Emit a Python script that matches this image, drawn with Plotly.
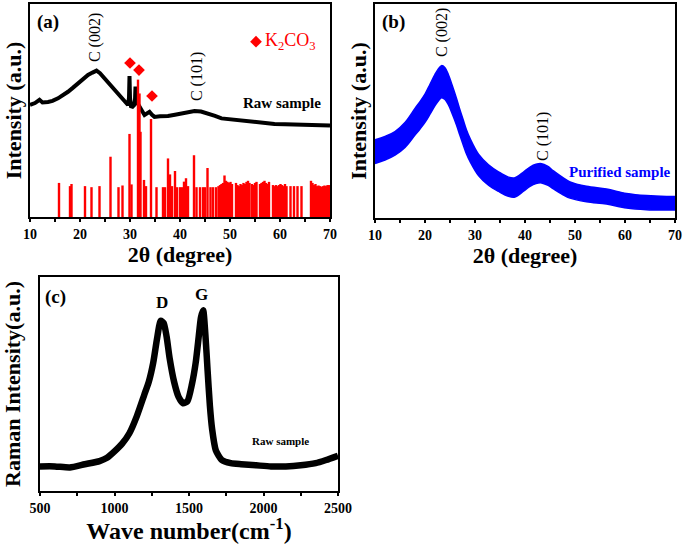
import plotly.graph_objects as go

# ---------------- Panel (a): raw sample XRD ----------------
raw_2theta = [10, 11, 11.9, 12.5, 13.6, 14.5, 15.6, 16.5, 17.6, 18.5, 19.6, 20.5, 21.6, 22.5, 23.3,
              24.0, 24.9, 25.8, 26.6, 27.5, 28.3, 29.0, 29.6, 29.8, 29.9, 30.0, 30.2, 30.5, 30.8,
              31.0, 31.1, 31.2, 31.4, 31.6, 31.9, 32.3, 32.9, 33.5, 33.9, 34.4, 34.9, 36.0, 37.6,
              39.0, 40.3, 41.5, 42.9, 44.2, 45.6, 47.0, 48.3, 49.5, 50.9, 53.0, 54.9, 57.0, 58.9,
              61.0, 62.9, 65.0, 66.9, 68.5, 70]
raw_int = [52.6, 53.5, 55.0, 53.8, 54, 54.5, 55.7, 57, 58.8, 60.5, 62.8, 64.5, 66.7, 67.8, 68.7,
           67.5, 65, 62.8, 60.4, 58, 55.7, 54, 52.6, 56, 66.2, 56, 52, 51.8, 52.5,
           55, 61.2, 55, 54, 53, 51.5, 50.2, 47.9, 48.5, 49.4, 48, 47, 47.3, 47.4,
           48, 48.7, 49.3, 49.8, 49.5, 48.7, 47.5, 46.3, 46, 45.5, 45, 44.4, 44, 43.7,
           43.6, 43.5, 43.3, 43.2, 43, 42.9]

# K2CO3 reference sticks
k2co3_pos = [15.8, 18.0, 18.3, 21.0, 22.3, 23.9, 26.1, 27.7, 28.5, 29.9, 30.3, 31.6, 31.9, 32.1,
             32.8, 33.2, 34.2, 35.3, 36.6, 37.0, 37.6, 38.0, 38.4, 39.0, 39.4, 40.0, 40.4, 40.8,
             41.2, 41.6, 42.8, 43.3, 44.0, 44.6, 45.0, 45.5, 46.1, 46.6, 47.2, 47.7, 48.0, 48.3,
             48.6, 48.9, 49.2, 49.5, 49.8, 50.1, 50.4,
             51.2, 51.5, 51.8, 52.1, 52.4, 52.7, 53.0, 53.3, 53.6, 53.9, 54.4, 54.7, 55.0, 55.3,
             56.0, 56.3, 56.6, 56.9, 57.2, 57.5, 57.8, 58.6, 58.9, 59.2, 59.5, 59.8, 60.1, 60.4,
             60.7, 61.0, 61.3, 62.1, 62.8, 63.5, 64.3,
             66.2, 66.5, 66.8, 67.1, 67.4, 67.7, 68.0, 68.3, 68.6, 68.9, 69.2, 69.5, 69.8]
k2co3_int = [16, 14.5, 15.5, 14.5, 14, 14.5, 28.3, 14, 14.8, 39, 15.3, 64.5, 58, 40,
             17.4, 14.5, 46, 14, 14, 14, 27.5, 20, 14.5, 21.6, 14, 14, 14, 16.6,
             18.2, 14.5, 29, 14, 14, 14, 14, 23, 14, 14, 14, 14.5, 15, 15.5,
             16, 19.5, 17, 16.5, 16, 16.5, 15.5,
             16, 15, 14.5, 15.5, 15, 16, 15.5, 16.5, 17, 16, 15.5, 15, 16, 16.5,
             15.5, 16, 16.5, 17, 16, 15.5, 16.5, 15, 14.5, 15, 14.5, 15, 15.5, 15,
             14.5, 15.5, 14.5, 14.5, 14.5, 14.5, 14.5,
             17, 16, 15, 15.5, 14.5, 14.8, 14.5, 14.2, 14.5, 14.8, 14.5, 15, 15]

# diamond markers above K2CO3 peaks
diamond_2theta = [30.0, 31.8, 34.4]
diamond_int = [72.3, 69.0, 56.8]

# ---------------- Panel (b): purified sample XRD ----------------
pur_2theta = [10, 12, 14, 16, 18, 19, 20, 21, 22, 22.7, 23.3, 24.0, 24.7, 25.5, 26.3, 27.0, 27.7,
              28.3, 29, 30.7, 32.7, 34.7, 36.7, 38, 39.7, 41, 42.2, 43.3, 44.5, 45.7, 47.3, 49,
              52.3, 56.3, 60.3, 64.3, 68.3, 70]
pur_int = [31, 32.6, 34.9, 38.8, 45, 48, 51.3, 55.5, 59.8, 62.3, 63.7, 62.8, 59.8, 55, 49.7,
           44.5, 39.6, 35.5, 31.8, 24.8, 20.1, 17, 14.6, 14.3, 17, 19.3, 20.6, 20.9, 19.8, 17.8,
           15.3, 13.1, 11.2, 10, 8.1, 7.2, 6.9, 6.9]
pur_halfwidth = [5.5, 5.5, 5.5, 5.8, 6.2, 6.4, 6.6, 7.0, 7.3, 7.5, 7.5, 7.4, 7.0, 6.6, 6.2, 6.0, 5.8,
                 5.6, 5.4, 5.0, 4.8, 4.6, 4.5, 4.5, 4.5, 4.5, 4.5, 4.5, 4.4, 4.2, 4.0, 3.8,
                 3.6, 3.5, 3.4, 3.3, 3.2, 3.2]

# ---------------- Panel (c): Raman ----------------
wavenumber = [500, 600, 700, 800, 900, 950, 1000, 1050, 1100, 1150, 1200, 1230, 1260, 1285, 1310,
              1330, 1350, 1370, 1400, 1430, 1460, 1490, 1520, 1545, 1565, 1580, 1595, 1610, 1625,
              1640, 1655, 1680, 1720, 1780, 1850, 1950, 2050, 2150, 2250, 2350, 2420, 2500]
raman_int = [11.5, 11.5, 11.0, 12.5, 14, 15.5, 18.5, 22, 27, 35, 45, 51, 60, 71, 79.5,
             78.5, 72, 62, 51, 44, 41, 42, 50, 60, 72, 81, 84.5, 73, 56,
             40, 29, 19, 14.5, 13, 12.5, 12, 11.5, 11.5, 12, 13, 14.5, 16.5]

FONT = "Liberation Serif"

fig = go.Figure()

# panel a
fig.add_trace(go.Scatter(x=raw_2theta, y=raw_int, mode="lines",
                         line=dict(color="black", width=4), xaxis="x", yaxis="y",
                         showlegend=False, hoverinfo="skip"))
sx, sy = [], []
for p, h in zip(k2co3_pos, k2co3_int):
    sx += [p, p, None]
    sy += [0, h, None]
fig.add_trace(go.Scatter(x=sx, y=sy, mode="lines", line=dict(color="#ff0000", width=2.4),
                         xaxis="x", yaxis="y", showlegend=False, hoverinfo="skip"))
fig.add_trace(go.Scatter(x=diamond_2theta, y=diamond_int, mode="markers",
                         marker=dict(symbol="diamond", color="#ff0000", size=9),
                         xaxis="x", yaxis="y", showlegend=False, hoverinfo="skip"))
fig.add_trace(go.Scatter(x=[55.2], y=[82.3], mode="markers",
                         marker=dict(symbol="diamond", color="#ff0000", size=9),
                         xaxis="x", yaxis="y", showlegend=False, hoverinfo="skip"))

# panel b
upper = [c + w for c, w in zip(pur_int, pur_halfwidth)]
lower = [c - w for c, w in zip(pur_int, pur_halfwidth)]
fig.add_trace(go.Scatter(x=pur_2theta, y=lower, mode="lines",
                         line=dict(color="#0000ff", width=1.5, shape="spline"),
                         xaxis="x2", yaxis="y2", showlegend=False, hoverinfo="skip"))
fig.add_trace(go.Scatter(x=pur_2theta, y=upper, mode="lines",
                         line=dict(color="#0000ff", width=1.5, shape="spline"),
                         fill="tonexty", fillcolor="#0000ff",
                         xaxis="x2", yaxis="y2", showlegend=False, hoverinfo="skip"))

# panel c
fig.add_trace(go.Scatter(x=wavenumber, y=raman_int, mode="lines",
                         line=dict(color="black", width=6.5, shape="spline", smoothing=0.6),
                         xaxis="x3", yaxis="y3",
                         showlegend=False, hoverinfo="skip"))

W, H = 685, 544
def xd(a, b):
    return [a / W, b / W]
def yd(top, bottom):
    return [1 - bottom / H, 1 - top / H]

common_x = dict(showline=True, linewidth=2, linecolor="black", mirror=True,
                ticks="outside", ticklen=3, tickwidth=1.5, tickcolor="black",
                showgrid=False, zeroline=False, automargin=False,
                tickfont=dict(family=FONT, size=14, color="black", weight="bold"),
                minor=dict(ticks="outside", ticklen=3, tickwidth=1.5, tickcolor="black"))
common_y = dict(showline=True, linewidth=2, linecolor="black", mirror=True,
                ticks="", showticklabels=False, showgrid=False, zeroline=False,
                automargin=False, range=[0, 100])

xtitle_font = dict(family=FONT, size=22, color="black", weight="bold")
ytitle_font = dict(family=FONT, size=22, color="black", weight="bold")

fig.update_layout(
    width=W, height=H, margin=dict(l=0, r=0, t=0, b=0),
    paper_bgcolor="white", plot_bgcolor="white",
    xaxis=dict(common_x, domain=xd(30, 330), range=[10, 70], dtick=10, tick0=10,
               minor=dict(common_x["minor"], dtick=5),
               title=dict(text="2θ (degree)", font=xtitle_font, standoff=4), anchor="y"),
    yaxis=dict(common_y, domain=yd(4, 217), anchor="x",
               title=dict(text="Intensity (a.u.)", font=ytitle_font, standoff=0)),
    xaxis2=dict(common_x, domain=xd(375, 675), range=[10, 70], dtick=10, tick0=10,
                minor=dict(common_x["minor"], dtick=5),
                title=dict(text="2θ (degree)", font=xtitle_font, standoff=4), anchor="y2"),
    yaxis2=dict(common_y, domain=yd(4, 218), anchor="x2",
                title=dict(text="Intensity (a.u.)", font=ytitle_font, standoff=0)),
    xaxis3=dict(common_x, domain=xd(40, 338), range=[500, 2500], dtick=500, tick0=500,
                minor=dict(common_x["minor"], dtick=250),
                title=dict(text="Wave number(cm<sup>-1</sup>)",
                           font=dict(family=FONT, size=24, color="black", weight="bold"),
                           standoff=4), anchor="y3"),
    yaxis3=dict(common_y, domain=yd(277, 491), anchor="x3",
                title=dict(text="Raman Intensity(a.u.)",
                           font=dict(family=FONT, size=22, color="black", weight="bold"),
                           standoff=12)),
)

def ann(text, x, y, xr, yr, size, color="black", bold=True, angle=0, xanchor="center"):
    fig.add_annotation(text=text, x=x, y=y, xref=xr, yref=yr, showarrow=False,
                       textangle=angle, xanchor=xanchor, yanchor="middle",
                       font=dict(family=FONT, size=size, color=color,
                                 weight="bold" if bold else "normal"))

# panel a texts
ann("(a)", 13.6, 91.5, "x", "y", 19)
ann("C (002)", 23.0, 84, "x", "y", 16, bold=False, angle=-90)
ann("C (101)", 43.4, 65.7, "x", "y", 16, bold=False, angle=-90)
ann("K<sub>2</sub>CO<sub>3</sub>", 56.6, 82.3, "x", "y", 18, color="#ff0000", bold=False, xanchor="left")
ann("Raw sample", 60.4, 53.5, "x", "y", 15)
# panel b texts
ann("(b)", 13.6, 91.6, "x2", "y2", 19)
ann("C (002)", 23.4, 86.4, "x2", "y2", 16, bold=False, angle=-90)
ann("C (101)", 43.6, 37.9, "x2", "y2", 16, bold=False, angle=-90)
ann("Purified sample", 59.0, 21.5, "x2", "y2", 15, color="#0000ff")
# panel c texts
ann("(c)", 607, 90.6, "x3", "y3", 19)
ann("D", 1319, 88.3, "x3", "y3", 17)
ann("G", 1587, 91.6, "x3", "y3", 17)
ann("Raw sample", 2111, 23.4, "x3", "y3", 11)

fig.write_html("out.html", config={"displayModeBar": False},
               post_script="document.body.style.margin='0';document.body.style.overflow='hidden';")
